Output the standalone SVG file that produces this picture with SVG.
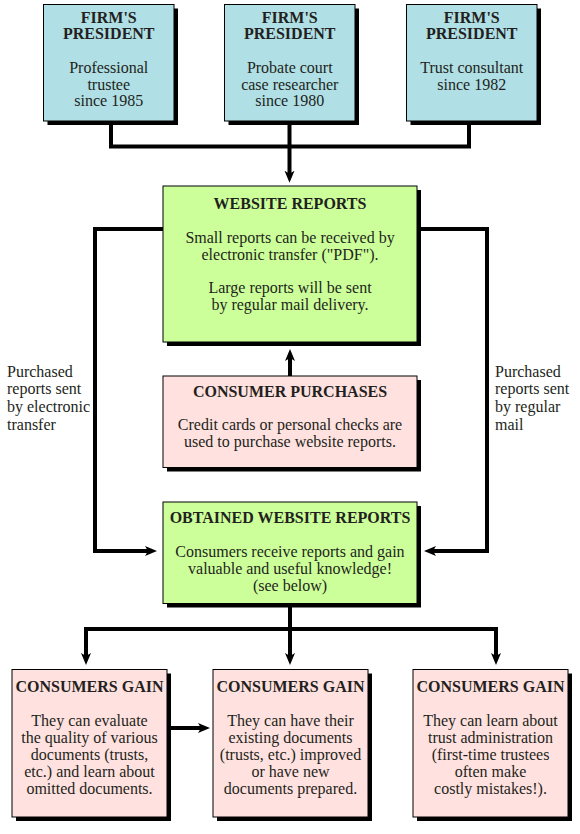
<svg xmlns="http://www.w3.org/2000/svg" width="580" height="834" viewBox="0 0 580 834">
<defs>
<style>
.sh{fill:#000}
.bx{stroke:#000;stroke-width:1}
.blue{fill:#B0DFE5}
.green{fill:#CCFF99}
.pink{fill:#FFE2DF}
text{font-family:"Liberation Serif","Times New Roman",serif;font-size:16px;fill:#231f20;text-anchor:middle}
.b{font-weight:bold}
.lbl{text-anchor:start}
.cn{fill:none;stroke:#000;stroke-width:4;stroke-linejoin:miter;stroke-linecap:butt}
</style>
<marker id="ah" viewBox="0 -6 13 12" markerWidth="13" markerHeight="12" refX="4" refY="0" orient="auto" markerUnits="userSpaceOnUse">
<path d="M0,-5 L12,0 L0,5 L3,0 Z" fill="#000"/>
</marker>
</defs>
<g id="connectors">
<path class="cn" d="M111,121 V146.5 H469 V121"/>
<path class="cn" d="M289.5,121 V174.7" marker-end="url(#ah)"/>
<path class="cn" d="M163,229 H95 V551 H149" marker-end="url(#ah)"/>
<path class="cn" d="M417,229 H487 V551 H432" marker-end="url(#ah)"/>
<path class="cn" d="M290,376 V357" marker-end="url(#ah)"/>
<path class="cn" d="M290,603 V629 H86 V657" marker-end="url(#ah)"/>
<path class="cn" d="M290,629 H496 V657" marker-end="url(#ah)"/>
<path class="cn" d="M290,629 V657" marker-end="url(#ah)"/>
<path class="cn" d="M166,728 H202" marker-end="url(#ah)"/>
</g>
<g id="labels">
<text class="lbl" x="7" y="376.5">Purchased</text>
<text class="lbl" x="7" y="394.3">reports sent</text>
<text class="lbl" x="7" y="412">by electronic</text>
<text class="lbl" x="7" y="429.8">transfer</text>
<text class="lbl" x="495" y="376.5">Purchased</text>
<text class="lbl" x="495" y="394.3">reports sent</text>
<text class="lbl" x="495" y="412">by regular</text>
<text class="lbl" x="495" y="429.8">mail</text>
</g>
<g id="president1">
<rect class="sh" x="47.5" y="8.5" width="130.5" height="116.5"/>
<rect class="bx blue" x="43.5" y="4.5" width="130.5" height="116.5"/>
<text class="b" x="108.75" y="22.7">FIRM'S</text>
<text class="b" x="108.75" y="39.4">PRESIDENT</text>
<text x="108.75" y="72.9">Professional</text>
<text x="108.75" y="89.6">trustee</text>
<text x="108.75" y="106.3">since 1985</text>
</g>
<g id="president2">
<rect class="sh" x="228.5" y="8.5" width="130.5" height="116.5"/>
<rect class="bx blue" x="224.5" y="4.5" width="130.5" height="116.5"/>
<text class="b" x="289.75" y="22.7">FIRM'S</text>
<text class="b" x="289.75" y="39.4">PRESIDENT</text>
<text x="289.75" y="72.9">Probate court</text>
<text x="289.75" y="89.6">case researcher</text>
<text x="289.75" y="106.3">since 1980</text>
</g>
<g id="president3">
<rect class="sh" x="410.5" y="8.5" width="130.5" height="116.5"/>
<rect class="bx blue" x="406.5" y="4.5" width="130.5" height="116.5"/>
<text class="b" x="471.75" y="22.7">FIRM'S</text>
<text class="b" x="471.75" y="39.4">PRESIDENT</text>
<text x="471.75" y="72.9">Trust consultant</text>
<text x="471.75" y="89.6">since 1982</text>
</g>
<g id="website-reports">
<rect class="sh" x="167" y="190" width="254" height="156"/>
<rect class="bx green" x="163" y="186" width="254" height="156"/>
<text class="b" x="290" y="209.3">WEBSITE REPORTS</text>
<text x="290" y="243">Small reports can be received by</text>
<text x="290" y="259.8">electronic transfer ("PDF").</text>
<text x="290" y="293.4">Large reports will be sent</text>
<text x="290" y="310.2">by regular mail delivery.</text>
</g>
<g id="consumer-purchases">
<rect class="sh" x="167" y="380" width="254" height="91.5"/>
<rect class="bx pink" x="163" y="376" width="254" height="91.5"/>
<text class="b" x="290" y="396.5">CONSUMER PURCHASES</text>
<text x="290" y="430.3">Credit cards or personal checks are</text>
<text x="290" y="447.1">used to purchase website reports.</text>
</g>
<g id="obtained-reports">
<rect class="sh" x="167" y="506" width="254" height="101.5"/>
<rect class="bx green" x="163" y="502" width="254" height="101.5"/>
<text class="b" x="290" y="523.3">OBTAINED WEBSITE REPORTS</text>
<text x="290" y="556.9">Consumers receive reports and gain</text>
<text x="290" y="573.7">valuable and useful knowledge!</text>
<text x="290" y="590.5">(see below)</text>
</g>
<g id="gain1">
<rect class="sh" x="16" y="673.5" width="155" height="147.5"/>
<rect class="bx pink" x="12" y="669.5" width="155" height="147.5"/>
<text class="b" x="89.5" y="691.5">CONSUMERS GAIN</text>
<text x="89.5" y="725.5">They can evaluate</text>
<text x="89.5" y="742.7">the quality of various</text>
<text x="89.5" y="759.9">documents (trusts,</text>
<text x="89.5" y="777.1">etc.) and learn about</text>
<text x="89.5" y="794.3">omitted documents.</text>
</g>
<g id="gain2">
<rect class="sh" x="217" y="673.5" width="155" height="147.5"/>
<rect class="bx pink" x="213" y="669.5" width="155" height="147.5"/>
<text class="b" x="290.5" y="691.5">CONSUMERS GAIN</text>
<text x="290.5" y="725.5">They can have their</text>
<text x="290.5" y="742.7">existing documents</text>
<text x="290.5" y="759.9">(trusts, etc.) improved</text>
<text x="290.5" y="777.1">or have new</text>
<text x="290.5" y="794.3">documents prepared.</text>
</g>
<g id="gain3">
<rect class="sh" x="417" y="673.5" width="155" height="147.5"/>
<rect class="bx pink" x="413" y="669.5" width="155" height="147.5"/>
<text class="b" x="490.5" y="691.5">CONSUMERS GAIN</text>
<text x="490.5" y="725.5">They can learn about</text>
<text x="490.5" y="742.7">trust administration</text>
<text x="490.5" y="759.9">(first-time trustees</text>
<text x="490.5" y="777.1">often make</text>
<text x="490.5" y="794.3">costly mistakes!).</text>
</g>
</svg>
